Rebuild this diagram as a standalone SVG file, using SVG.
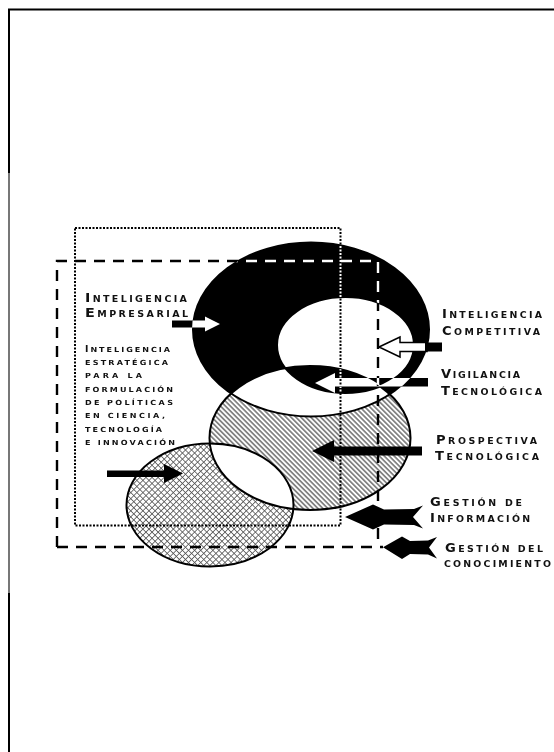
<svg xmlns="http://www.w3.org/2000/svg" width="554" height="752" viewBox="0 0 554 752">
<style>
  .lbl{font-family:"DejaVu Sans","Liberation Sans",sans-serif;font-weight:bold;fill:#111;}
  .big{font-size:12.5px}
  .sm{font-size:8.3px}
  .rbig{font-size:11.4px}
  .rsm{font-size:8.2px}
  .pbig{font-size:8px}
  .psm{font-size:7px}
  .outline{fill:none;stroke:#000;stroke-width:2}
  .inv{mix-blend-mode:difference}
  .dashed{fill:none;stroke:#000;stroke-width:2.4;stroke-dasharray:11 8}
  .dotted{fill:none;stroke:#000;stroke-width:2;stroke-dasharray:2 1.5}
  .onblack{stroke:#fff}
</style>
<defs>
  <pattern id="hatch" width="3.5" height="3.5" patternUnits="userSpaceOnUse" patternTransform="rotate(45)">
    <rect width="3.5" height="3.5" fill="#fff"/>
    <line x1="0" y1="1.75" x2="3.5" y2="1.75" stroke="#3a3a3a" stroke-width="1.1"/>
  </pattern>
  <pattern id="cross" width="4.3" height="4.3" patternUnits="userSpaceOnUse" patternTransform="rotate(45)">
    <rect width="4.3" height="4.3" fill="#fff"/>
    <line x1="0" y1="2.15" x2="4.3" y2="2.15" stroke="#555" stroke-width="0.8"/>
    <line x1="2.15" y1="0" x2="2.15" y2="4.3" stroke="#555" stroke-width="0.8"/>
  </pattern>
  <clipPath id="clipA"><ellipse cx="311" cy="329.5" rx="118" ry="87"/></clipPath>
  <clipPath id="clipB"><ellipse cx="345.5" cy="345" rx="68.5" ry="48"/></clipPath>
  <clipPath id="clipC"><ellipse cx="310" cy="438" rx="100.5" ry="72"/></clipPath>
  <clipPath id="blackReg" clip-path="url(#clipA)">
    <path clip-rule="evenodd" d="M193,329.5 a118,87 0 1,0 236,0 a118,87 0 1,0 -236,0 Z M277,345 a68.5,48 0 1,0 137,0 a68.5,48 0 1,0 -137,0 Z M209.5,438 a100.5,72 0 1,0 201,0 a100.5,72 0 1,0 -201,0 Z"/>
  </clipPath>
</defs>

<rect width="554" height="752" fill="#fff"/>

<g id="frame">
  <line x1="8" y1="9.5" x2="554" y2="9.5" stroke="#000" stroke-width="2"/>
  <line x1="9" y1="9" x2="9" y2="173" stroke="#000" stroke-width="2"/>
  <line x1="9" y1="173" x2="9" y2="593" stroke="#777" stroke-width="2"/>
  <line x1="9" y1="593" x2="9" y2="752" stroke="#000" stroke-width="2"/>
</g>

<g id="prospectiva">
  <ellipse cx="310" cy="438" rx="100.5" ry="72" fill="url(#hatch)"/>
</g>
<g id="gestion-informacion-elipse">
  <ellipse cx="210" cy="505" rx="83.5" ry="61.5" fill="url(#cross)"/>
  <ellipse cx="210" cy="505" rx="83.5" ry="61.5" fill="#fff" clip-path="url(#clipC)"/>
</g>
<g id="empresarial">
  <ellipse cx="311" cy="329.5" rx="118" ry="87" fill="#000"/>
  <ellipse cx="310" cy="438" rx="100.5" ry="72" fill="#fff" clip-path="url(#clipA)"/>
</g>
<g id="competitiva">
  <ellipse cx="345.5" cy="345" rx="68.5" ry="48" fill="#fff"/>
</g>
<g id="vigilancia">
  <ellipse cx="310" cy="438" rx="100.5" ry="72" fill="#000" clip-path="url(#clipB)"/>
</g>
<g id="outlines">
  <ellipse class="outline" cx="311" cy="329.5" rx="118" ry="87"/>
  <ellipse class="outline" cx="345.5" cy="345" rx="68.5" ry="48"/>
  <ellipse class="outline" cx="310" cy="438" rx="100.5" ry="72"/>
  <ellipse class="outline" cx="210" cy="505" rx="83.5" ry="61.5"/>
</g>

<g id="gestion-informacion">
  <rect class="dotted" x="75" y="228" width="265.5" height="297.5"/>
  <rect class="dotted onblack" x="75" y="228" width="265.5" height="297.5" clip-path="url(#blackReg)"/>
</g>
<g id="gestion-conocimiento">
  <path class="dashed" d="M57,547 V261 H378 V540 M57,547 H383"/>
  <path class="dashed onblack" d="M57,547 V261 H378 V540 M57,547 H383" clip-path="url(#blackReg)"/>
</g>

<g id="connectors">
  <polygon class="inv" fill="#fff" points="172,320.5 205,320.5 205,316.5 220,324 205,331.5 205,327.5 172,327.5"/>
  <polygon fill="#fff" stroke="#000" stroke-width="1.5" points="379,347 400,337 400,342.5 427,342.5 427,351.5 400,351.5 400,357"/>
  <rect x="425" y="342.5" width="17" height="9" fill="#000"/>
  <polygon class="inv" fill="#fff" points="315,383 335,373 335,378 428,378 428,386.5 335,386.5 335,393"/>
  <polygon fill="#000" points="312,451 334,440 334,446.5 422,446.5 422,455.5 334,455.5 334,462"/>
  <polygon fill="#000" points="345,517 373,504.5 384,509.5 414,509 423,505.5 413,517 423,528.5 414,525 384,524.5 373,529.5"/>
  <polygon fill="#000" points="383,547.3 402,536.5 410,541 428,540.5 437,537 429,547.5 437,558.5 428,554.5 410,554 402,559"/>
  <polygon fill="#000" points="107,470.5 164,470.5 164,464 183,473.5 164,483 164,477 107,477"/>
</g>

<g id="label-empresarial" class="lbl">
  <text transform="translate(85,301.7) scale(1.15,1)" textLength="88.7" lengthAdjust="spacing"><tspan class="big">I</tspan><tspan class="sm">NTELIGENCIA</tspan></text>
  <text transform="translate(85,316.7) scale(1.15,1)" textLength="89.6" lengthAdjust="spacing"><tspan class="big">E</tspan><tspan class="sm">MPRESARIAL</tspan></text>
</g>
<g id="label-estrategica" class="lbl">
  <text transform="translate(85,351.7) scale(1.15,1)" textLength="73.9" lengthAdjust="spacing"><tspan class="pbig">I</tspan><tspan class="psm">NTELIGENCIA</tspan></text>
  <text class="psm" transform="translate(85,365) scale(1.15,1)" textLength="72.2" lengthAdjust="spacing">ESTRATÉGICA</text>
  <text class="psm" transform="translate(85,378.3) scale(1.15,1)" textLength="49.6" lengthAdjust="spacing">PARA LA</text>
  <text class="psm" transform="translate(85,391.6) scale(1.15,1)" textLength="76.5" lengthAdjust="spacing">FORMULACIÓN</text>
  <text class="psm" transform="translate(85,404.9) scale(1.15,1)" textLength="76.5" lengthAdjust="spacing">DE POLÍTICAS</text>
  <text class="psm" transform="translate(85,418.2) scale(1.15,1)" textLength="69.6" lengthAdjust="spacing">EN CIENCIA,</text>
  <text class="psm" transform="translate(85,431.5) scale(1.15,1)" textLength="67" lengthAdjust="spacing">TECNOLOGÍA</text>
  <text class="psm" transform="translate(85,444.8) scale(1.15,1)" textLength="78.3" lengthAdjust="spacing">E INNOVACIÓN</text>
</g>
<g id="label-competitiva" class="lbl">
  <text transform="translate(442,318) scale(1.15,1)" textLength="87" lengthAdjust="spacing"><tspan class="rbig">I</tspan><tspan class="rsm">NTELIGENCIA</tspan></text>
  <text transform="translate(442,335) scale(1.15,1)" textLength="85.2" lengthAdjust="spacing"><tspan class="rbig">C</tspan><tspan class="rsm">OMPETITIVA</tspan></text>
</g>
<g id="label-vigilancia" class="lbl">
  <text transform="translate(441,378) scale(1.15,1)" textLength="68.7" lengthAdjust="spacing"><tspan class="rbig">V</tspan><tspan class="rsm">IGILANCIA</tspan></text>
  <text transform="translate(441,395) scale(1.15,1)" textLength="87.8" lengthAdjust="spacing"><tspan class="rbig">T</tspan><tspan class="rsm">ECNOLÓGICA</tspan></text>
</g>
<g id="label-prospectiva" class="lbl">
  <text transform="translate(436,444) scale(1.15,1)" textLength="87.8" lengthAdjust="spacing"><tspan class="rbig">P</tspan><tspan class="rsm">ROSPECTIVA</tspan></text>
  <text transform="translate(435,460) scale(1.15,1)" textLength="90.4" lengthAdjust="spacing"><tspan class="rbig">T</tspan><tspan class="rsm">ECNOLÓGICA</tspan></text>
</g>
<g id="label-gestion-informacion" class="lbl">
  <text transform="translate(430,505.5) scale(1.15,1)" textLength="80" lengthAdjust="spacing"><tspan class="rbig">G</tspan><tspan class="rsm">ESTIÓN DE</tspan></text>
  <text transform="translate(430,521.5) scale(1.15,1)" textLength="87" lengthAdjust="spacing"><tspan class="rbig">I</tspan><tspan class="rsm">NFORMACIÓN</tspan></text>
</g>
<g id="label-gestion-conocimiento" class="lbl">
  <text transform="translate(445,551.5) scale(1.15,1)" textLength="85.2" lengthAdjust="spacing"><tspan class="rbig">G</tspan><tspan class="rsm">ESTIÓN DEL</tspan></text>
  <text class="rsm" transform="translate(444,566.5) scale(1.15,1)" textLength="93" lengthAdjust="spacing">CONOCIMIENTO</text>
</g>
</svg>
